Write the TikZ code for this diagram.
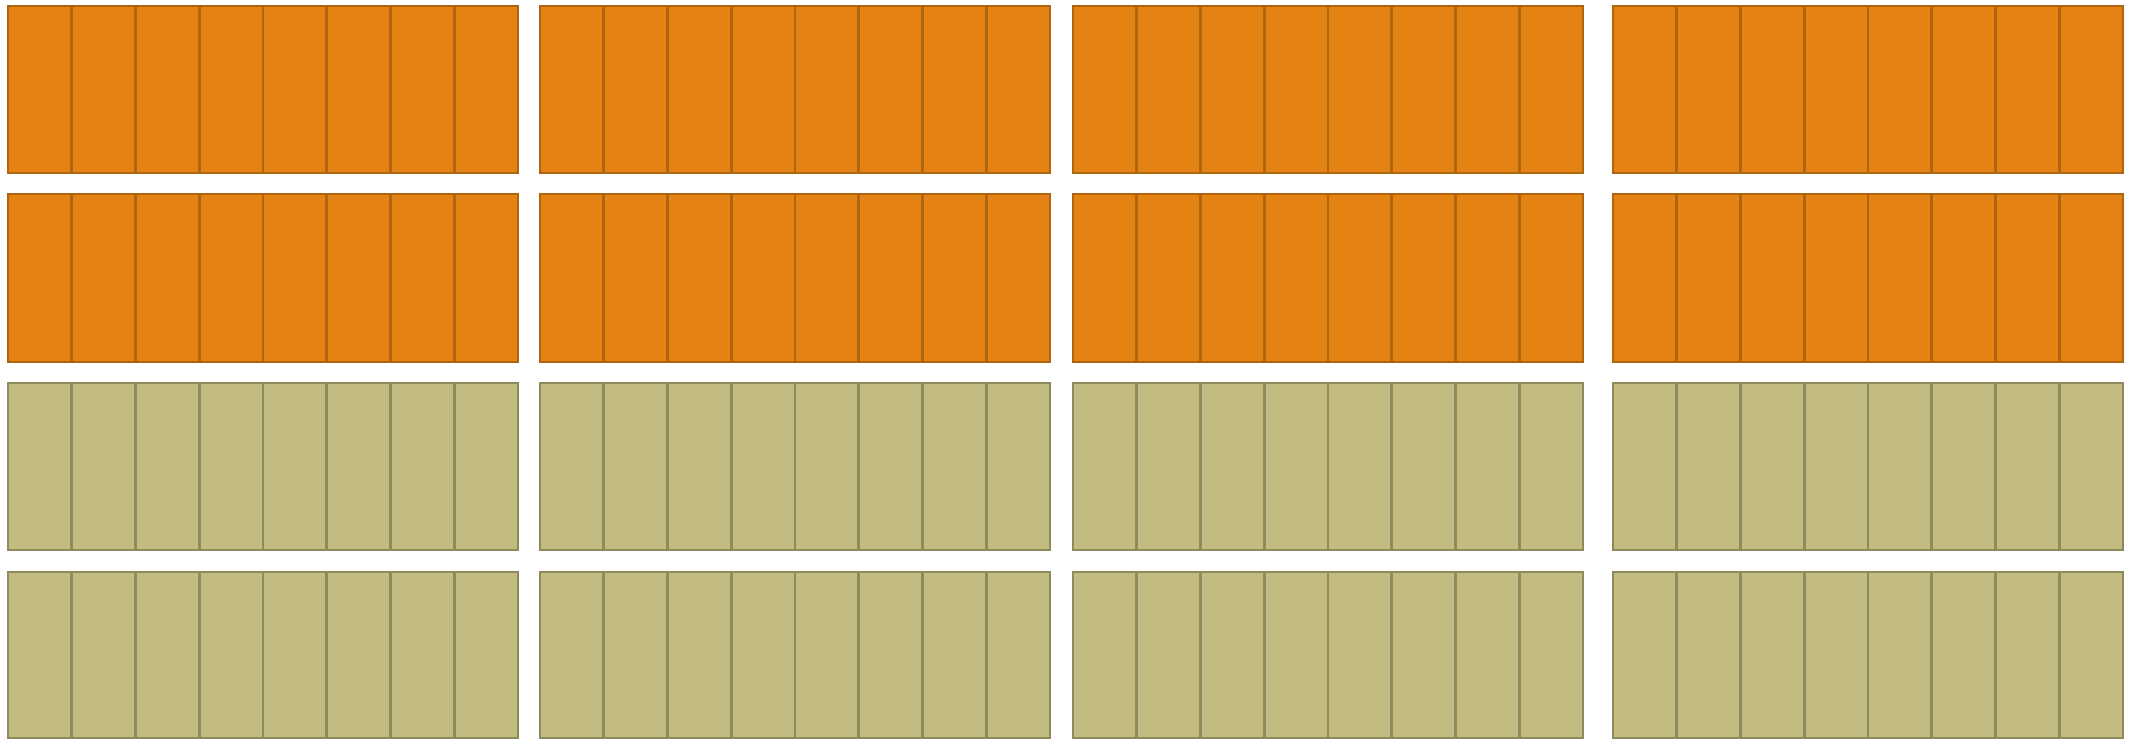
\documentclass[tikz,border=0pt]{standalone}
\usetikzlibrary{calc}
\definecolor{orfill}{HTML}{E58214}
\definecolor{ordraw}{HTML}{AF640F}
\definecolor{olfill}{HTML}{C2BC80}
\definecolor{oldraw}{HTML}{8E8A5C}
\begin{document}
\begin{tikzpicture}[x=1pt,y=-1pt,
  orcell/.style={fill=orfill,draw=ordraw,line width=2.6pt},
  olcell/.style={fill=olfill,draw=oldraw,line width=2.6pt}]
\useasboundingbox (0,0) rectangle (2134,739);
\fill[white] (0,0) rectangle (2134,739);
% rows: top, bottom, style
\foreach \top/\bot/\st in {6/173/orcell,194/362/orcell,383/550/olcell,572/738/olcell}{
  \foreach \left in {8,540,1073,1613}{
    \foreach \i in {0,...,7}{
      \draw[\st] ({\left+\i*63.75},\top) rectangle ({\left+(\i+1)*63.75},\bot);
    }
  }
}
\end{tikzpicture}
\end{document}
